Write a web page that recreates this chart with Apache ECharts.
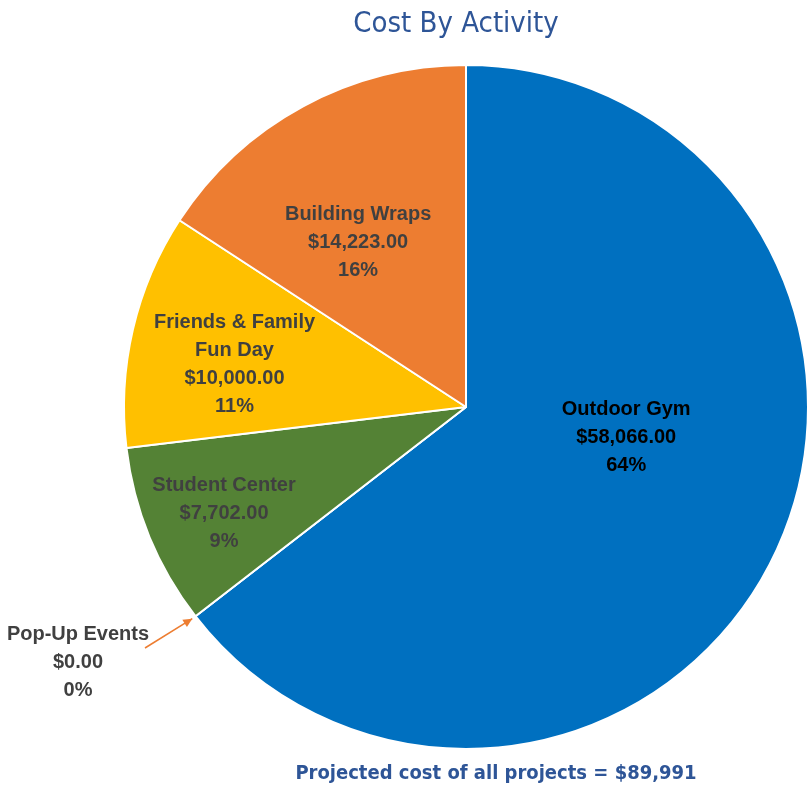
<!DOCTYPE html>
<html>
<head>
<meta charset="utf-8">
<script src="https://cdn.jsdelivr.net/npm/echarts@6/dist/echarts.min.js"></script>
<style>
  html, body { margin: 0; padding: 0; background: #fff; }
  #main { width: 810px; height: 792px; }
</style>
</head>
<body>
<div id="main"></div>
<script>
// data
var activities = ['Outdoor Gym', 'Pop-Up Events', 'Student Center', 'Friends & Family\nFun Day', 'Building Wraps'];
var costs = [58066, 0, 7702, 10000, 14223];
var colors = ['#0070C0', '#ED7D31', '#548235', '#FFC000', '#ED7D31'];
var labelColors = ['#000000', '#404040', '#404040', '#404040', '#404040'];

// nudges for the labels (from the default spot)
var labelShift = [[4, -46], [0, 0], [-81, 40], [-62, -3], [-25, -12]];

var total = costs.reduce(function (a, b) { return a + b; }, 0);

var cx = 466, cy = 407, R = 342;
var popX = 78, popY = 662;

function money(v) {
    return '$' + v.toLocaleString('en-US', { minimumFractionDigits: 2, maximumFractionDigits: 2 });
}

// arrow head for the zero slice, pointing at the slice edge
var zeroAngle = costs[0] / total * Math.PI * 2;
var tip = [cx + Math.sin(zeroAngle) * (R + 4), cy - Math.cos(zeroAngle) * (R + 4)];
var tail = [popX + 67, popY - 14];
var ang = Math.atan2(tip[1] - tail[1], tip[0] - tail[0]);
var head = [
    tip,
    [tip[0] - 10 * Math.cos(ang - 0.45), tip[1] - 10 * Math.sin(ang - 0.45)],
    [tip[0] - 10 * Math.cos(ang + 0.45), tip[1] - 10 * Math.sin(ang + 0.45)]
];

var chart = echarts.init(document.getElementById('main'));

var pieData = activities.map(function (name, i) {
    var item = {
        name: name,
        value: costs[i],
        itemStyle: { color: colors[i] },
        label: { color: labelColors[i] }
    };
    if (costs[i] === 0) {
        item.label = {
            position: 'outside',
            color: labelColors[i],
            align: 'center'
        };
        item.labelLine = {
            show: true,
            length: 10,
            length2: 10,
            lineStyle: { color: '#ED7D31', width: 1.5 }
        };
    }
    return item;
});

var option = {
    backgroundColor: '#ffffff',
    title: [{
        text: 'Cost By Activity',
        left: 451,
        top: 5,
        textAlign: 'center',
        textStyle: {
            fontFamily: 'DejaVu Sans Condensed',
            fontWeight: 'normal',
            fontSize: 29,
            color: '#2E5597'
        }
    }, {
        text: 'Projected cost of all projects = $' + total.toLocaleString('en-US'),
        left: 491,
        top: 759,
        textAlign: 'center',
        textStyle: {
            fontFamily: 'DejaVu Sans Condensed',
            fontWeight: 'bold',
            fontSize: 20,
            color: '#2E5597'
        }
    }],
    graphic: [{
        type: 'polygon',
        shape: { points: head },
        style: { fill: '#ED7D31' },
        z: 10
    }],
    series: [{
        type: 'pie',
        center: [cx, cy],
        radius: R,
        startAngle: 90,
        clockwise: true,
        percentPrecision: 0,
        avoidLabelOverlap: false,
        stillShowZeroSum: true,
        itemStyle: { borderColor: '#ffffff', borderWidth: 2 },
        label: {
            show: true,
            position: 'inside',
            fontFamily: 'Liberation Sans',
            fontWeight: 'bold',
            fontSize: 20,
            lineHeight: 28,
            align: 'center',
            formatter: function (p) {
                return p.name + '\n' + money(p.value) + '\n' + p.percent + '%';
            }
        },
        labelLine: { show: false },
        emphasis: { disabled: true },
        labelLayout: function (p) {
            var s = labelShift[p.dataIndex];
            if (costs[p.dataIndex] === 0) {
                return {
                    x: popX, y: popY, align: 'center', verticalAlign: 'middle',
                    labelLinePoints: [tail, tail, tip]
                };
            }
            return { dx: s[0], dy: s[1] };
        },
        data: pieData
    }]
};

chart.setOption(option);
</script>
</body>
</html>
